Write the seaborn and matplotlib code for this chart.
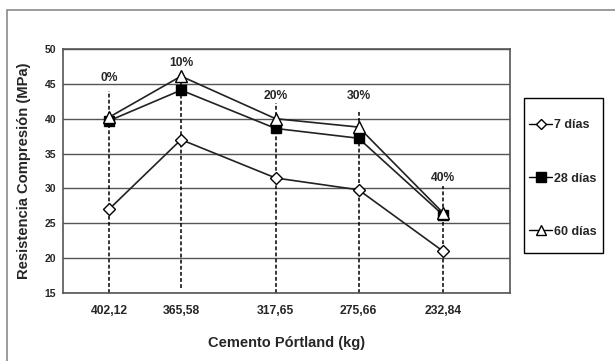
import matplotlib
matplotlib.use("Agg")
import matplotlib.pyplot as plt
from matplotlib.lines import Line2D
from matplotlib.patches import Rectangle
import seaborn as sns
import pandas as pd

# Cement content (kg) and compressive strength per curing age (MPa)
cemento = [402.12, 365.58, 317.65, 275.66, 232.84]
cemento_labels = ["402,12", "365,58", "317,65", "275,66", "232,84"]
dias_7 = [27.0, 37.0, 31.5, 29.8, 21.0]
dias_28 = [39.7, 44.1, 38.6, 37.2, 26.2]
dias_60 = [40.2, 46.1, 40.0, 38.8, 26.5]
series_names = ["7 días", "28 días", "60 días"]

# Replacement percentages marked over each cement content
reemplazo = ["0%", "10%", "20%", "30%", "40%"]
reemplazo_y = [45.9, 48.0, 43.2, 43.2, 31.5]
guia_top = [44.0, 46.0, 42.3, 41.3, 30.4]
guia_bottom = [15.0, 15.7, 15.0, 15.0, 15.0]

yticks = [15, 20, 25, 30, 35, 40, 45, 50]

df = pd.DataFrame({
    "cemento": cemento * 3,
    "resistencia": dias_7 + dias_28 + dias_60,
    "edad": [series_names[0]] * 5 + [series_names[1]] * 5 + [series_names[2]] * 5,
})

sns.set_style("white")
plt.rcParams["font.family"] = ["Liberation Sans", "DejaVu Sans"]
plt.rcParams["font.weight"] = "bold"

fig = plt.figure(figsize=(6.15, 3.61), dpi=100)
ax = fig.add_axes([63 / 615, 1 - 293 / 361, (510 - 63) / 615, (293 - 49) / 361])

# Outer frame of the figure (top and left edges visible)
fig.patches.append(Rectangle((7 / 615, -0.1), 1.2, 1 - 10 / 361 + 0.1,
                             transform=fig.transFigure, fill=False,
                             edgecolor="#8a8a8a", lw=1.2, zorder=0))

# Horizontal gridlines
for y in yticks:
    ax.axhline(y, color="#555555", lw=1.0, zorder=1)

# Dashed guide lines for each cement content
for x, b, t in zip(cemento, guia_bottom, guia_top):
    ax.plot([x, x], [b, t], color="black", lw=1.1, ls=(0, (2.5, 1.5)), zorder=2)

sns.lineplot(data=df, x="cemento", y="resistencia", hue="edad", style="edad",
             palette=["#222222"] * 3, dashes=False,
             markers={"7 días": "D", "28 días": "s", "60 días": "^"},
             ax=ax, lw=1.2, zorder=3, legend=False, sort=False)

# Marker fill per series
fills = {"7 días": "white", "28 días": "black", "60 días": "white"}
sizes = {"7 días": 6, "28 días": 7.5, "60 días": 8.5}
for line, name in zip(ax.lines[-3:], series_names):
    line.set_markerfacecolor(fills[name])
    line.set_markeredgecolor("black")
    line.set_markeredgewidth(1.0)
    line.set_markersize(sizes[name])

for x, lab, y in zip(cemento, reemplazo, reemplazo_y):
    ax.text(x, y, lab, ha="center", va="center", fontsize=8.7, fontweight="bold", zorder=4)

ax.set_xlim(425.4, 198.9)
ax.set_ylim(15, 50)
ax.set_xticks(cemento)
ax.set_xticklabels(cemento_labels, fontsize=8.7, fontweight="bold")
ax.set_yticks(yticks)
ax.set_yticklabels([str(v) for v in yticks], fontsize=7.5, fontweight="bold")
ax.tick_params(axis="y", length=3, width=0.8, color="#555555", pad=2)
ax.tick_params(axis="x", length=0, pad=9)
for s in ax.spines.values():
    s.set_color("#555555")
    s.set_linewidth(1.2)

ax.set_xlabel("Cemento Pórtland (kg)", fontsize=10.5, fontweight="bold", labelpad=13)
ax.set_ylabel("Resistencia Compresión (MPa)", fontsize=10.6, fontweight="bold", labelpad=10)

# Legend: entries without frame, plus a square box around them
handles = [
    Line2D([], [], color="black", lw=1.0, marker="D", ms=5, mfc="white", mec="black"),
    Line2D([], [], color="black", lw=1.0, marker="s", ms=7, mfc="black", mec="black"),
    Line2D([], [], color="black", lw=1.0, marker="^", ms=7, mfc="white", mec="black"),
]
fig.legend(handles, series_names, loc="center left", bbox_to_anchor=(529 / 615, 1 - 178.5 / 361),
           frameon=False, handlelength=1.85, handletextpad=0.15, labelspacing=3.3,
           borderpad=0, borderaxespad=0, prop={"weight": "bold", "size": 9})
fig.patches.append(Rectangle((524 / 615, 1 - 253 / 361), 79 / 615, 155 / 361,
                             transform=fig.transFigure, fill=False,
                             edgecolor="black", lw=1.0, zorder=5))

fig.savefig("out.png", dpi=100)
